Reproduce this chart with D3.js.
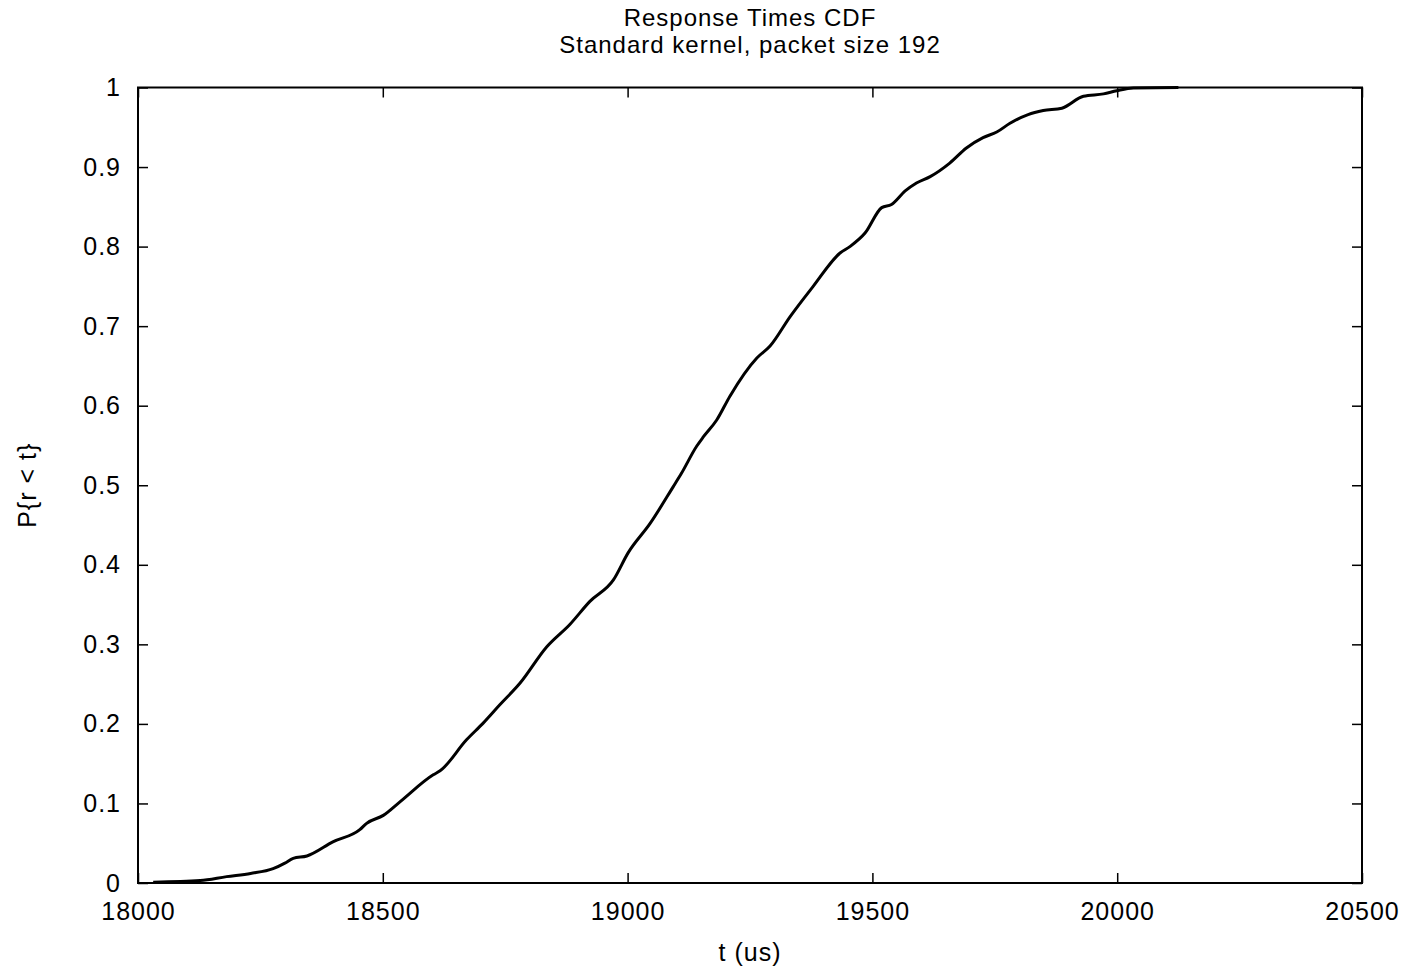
<!DOCTYPE html>
<html>
<head>
<meta charset="utf-8">
<script src="https://cdn.jsdelivr.net/npm/d3@7"></script>
<style>
  html, body { margin: 0; padding: 0; background: #fff; }
  svg text { font-family: "Liberation Sans", Arial, Helvetica, sans-serif; font-size: 25px; letter-spacing: 1px; fill: #000; }
  svg text.title { font-size: 24px; }
</style>
</head>
<body>
<div id="chart"></div>
<script>
var times = [18031, 18127, 18181, 18230, 18276, 18300, 18317, 18345, 18399, 18453,
  18467, 18501, 18535, 18603, 18617, 18671, 18705, 18739, 18780, 18835,
  18882, 18923, 18971, 19001, 19046, 19093, 19110, 19141, 19155, 19182,
  19209, 19264, 19291, 19332, 19379, 19434, 19454, 19485, 19519, 19539,
  19567, 19590, 19618, 19658, 19692, 19726, 19754, 19781, 19818, 19849,
  19887, 19931, 19972, 19999, 20033, 20125];
var probs = [0.001, 0.003, 0.008, 0.012, 0.018, 0.025, 0.031, 0.034, 0.052, 0.067,
  0.075, 0.085, 0.102, 0.136, 0.141, 0.180, 0.201, 0.224, 0.251, 0.297,
  0.325, 0.354, 0.381, 0.415, 0.452, 0.498, 0.515, 0.549, 0.561, 0.582,
  0.612, 0.660, 0.675, 0.712, 0.750, 0.792, 0.800, 0.817, 0.849, 0.853,
  0.870, 0.880, 0.888, 0.905, 0.924, 0.937, 0.944, 0.955, 0.966, 0.971,
  0.974, 0.989, 0.992, 0.996, 0.9995, 1.0];

var xTicks = [18000, 18500, 19000, 19500, 20000, 20500];
var yTicks = [0, 0.1, 0.2, 0.3, 0.4, 0.5, 0.6, 0.7, 0.8, 0.9, 1];
var titleLines = ['Response Times CDF', 'Standard kernel, packet size 192'];

var width = 1412
  , height = 966
  , margin = { top: 87.5, right: 50, bottom: 83, left: 138 }
  , w = width - margin.left - margin.right
  , h = height - margin.top - margin.bottom
;

var data = times.map(function (t, i) { return { t: t, p: probs[i] }; });

var svg = d3.select('#chart').append('svg')
    .attr('width', width)
    .attr('height', height);

var x = d3.scaleLinear().domain([18000, 20500]).range([0, w]);
var y = d3.scaleLinear().domain([0, 1]).range([h, 0]);

var g = svg.append('g')
    .attr('transform', 'translate(' + margin.left + ',' + margin.top + ')');

// ticks point inward on all four sides, like gnuplot
function styleAxis(sel) {
  sel.select('.domain').remove();
  sel.selectAll('.tick line').attr('stroke', '#000').attr('stroke-width', 1.5);
  sel.selectAll('.tick text').attr('font-size', null).attr('font-family', null);
}

g.append('g')
    .attr('transform', 'translate(0,' + h + ')')
    .call(d3.axisBottom(x).tickValues(xTicks).tickSize(-10).tickPadding(19).tickFormat(d3.format('d')))
    .call(styleAxis);

g.append('g')
    .call(d3.axisTop(x).tickValues(xTicks).tickSize(-10).tickFormat(''))
    .call(styleAxis);

g.append('g')
    .call(d3.axisLeft(y).tickValues(yTicks).tickSize(-10).tickPadding(17).tickFormat(d3.format('~g')))
    .call(styleAxis);

g.append('g')
    .attr('transform', 'translate(' + w + ',0)')
    .call(d3.axisRight(y).tickValues(yTicks).tickSize(-10).tickFormat(''))
    .call(styleAxis);

// frame
g.append('rect')
    .attr('width', w)
    .attr('height', h)
    .attr('fill', 'none')
    .attr('stroke', '#000')
    .attr('stroke-width', 2);

var line = d3.line()
    .curve(d3.curveMonotoneX)
    .x(function (d) { return x(d.t); })
    .y(function (d) { return y(d.p); });

g.append('path')
    .datum(data)
    .attr('d', line)
    .attr('fill', 'none')
    .attr('stroke', '#000')
    .attr('stroke-width', 3)
    .attr('stroke-linejoin', 'round');

// titles and labels
svg.selectAll('text.title')
    .data(titleLines)
    .enter()
    .append('text')
    .attr('class', 'title')
    .attr('x', margin.left + w / 2)
    .attr('y', function (d, i) { return 25.5 + i * 27.8; })
    .attr('text-anchor', 'middle')
    .text(function (d) { return d; });

svg.append('text')
    .attr('x', margin.left + w / 2)
    .attr('y', 961)
    .attr('text-anchor', 'middle')
    .text('t (us)');

svg.append('text')
    .attr('transform', 'translate(36,' + (margin.top + h / 2) + ') rotate(-90)')
    .attr('text-anchor', 'middle')
    .text('P{r < t}');
</script>
</body>
</html>
